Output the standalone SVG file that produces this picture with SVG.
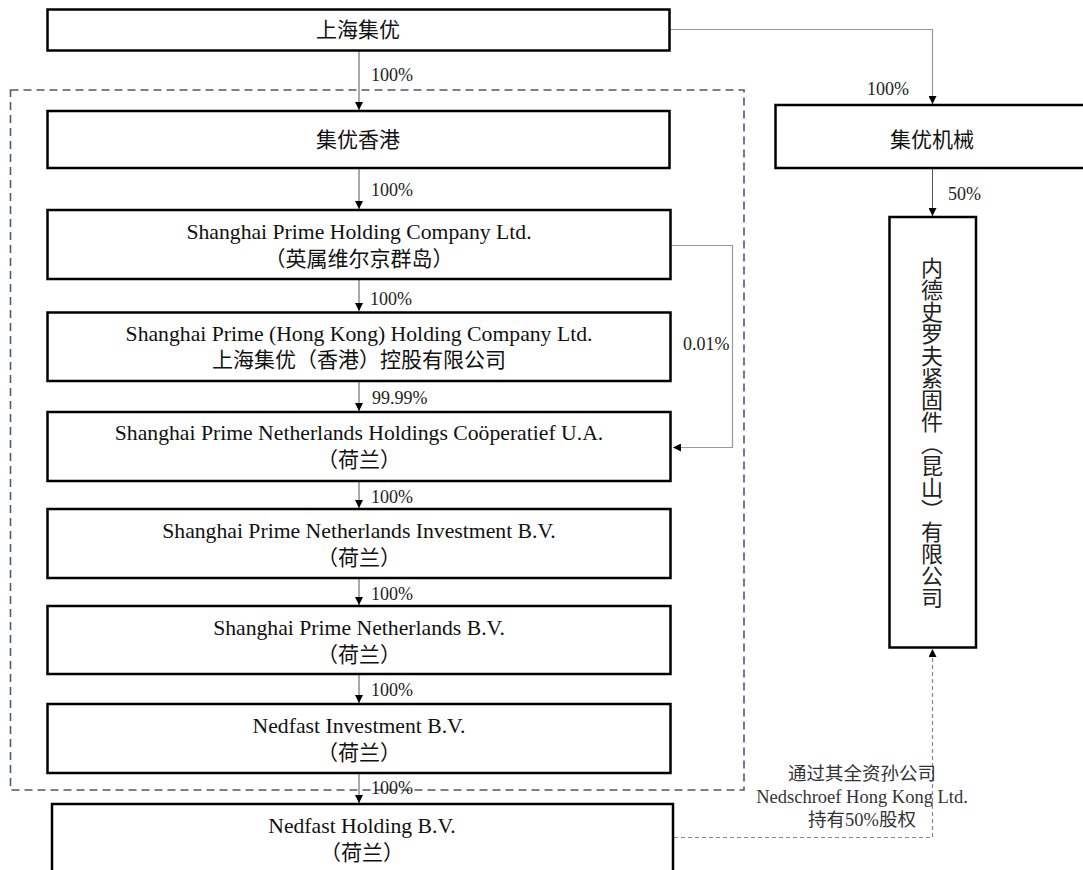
<svg xmlns="http://www.w3.org/2000/svg" width="1083" height="870" viewBox="0 0 1083 870">
<defs>
<style>
.box{fill:#fff;stroke:#000;stroke-width:2.5}
.t{font-family:"Liberation Serif","Noto Sans CJK SC",serif;font-size:21px;fill:#111;text-anchor:middle}
.en{font-size:21.7px}
.pct{font-family:"Liberation Serif","Noto Sans CJK SC",serif;font-size:18px;fill:#222}
.ln{fill:none;stroke:#555;stroke-width:1}
.lg{fill:none;stroke:#999;stroke-width:1.2}
.ld{fill:none;stroke:#888;stroke-width:1.2;stroke-dasharray:4 3}
.grp{fill:none;stroke:#4b5a7a;stroke-width:1.6;stroke-dasharray:8 5}
.note{font-family:"Liberation Serif","Noto Sans CJK SC",serif;font-size:18.5px;fill:#333;text-anchor:middle}
</style>
<marker id="ah" viewBox="0 0 10 10" refX="10" refY="5" markerWidth="8" markerHeight="8" markerUnits="userSpaceOnUse" orient="auto">
<path d="M0,0 L10,5 L0,10 z" fill="#000"/>
</marker>
</defs>
<rect width="1083" height="870" fill="#fff"/>

<rect class="grp" x="10.5" y="90" width="733.5" height="700"/>

<g id="connectors">
<path class="ln" d="M359,51 V110" marker-end="url(#ah)"/>
<path class="ln" d="M359,168 V209" marker-end="url(#ah)"/>
<path class="ln" d="M359,279 V311" marker-end="url(#ah)"/>
<path class="ln" d="M359,381 V411" marker-end="url(#ah)"/>
<path class="ln" d="M359,481 V508" marker-end="url(#ah)"/>
<path class="ln" d="M359,578 V605" marker-end="url(#ah)"/>
<path class="ln" d="M359,674 V703" marker-end="url(#ah)"/>
<path class="ln" d="M359,773 V803" marker-end="url(#ah)"/>
<path class="lg" d="M670,29.5 H932.5 V104" marker-end="url(#ah)"/>
<path class="ln" d="M932.5,168 V216" marker-end="url(#ah)"/>
<path class="lg" d="M672,245.5 H732.5 V447.5 H673" marker-end="url(#ah)"/>
<path class="ld" d="M674,837.5 H932.5 V649" marker-end="url(#ah)"/>
<text class="pct" x="371" y="81">100%</text>
<text class="pct" x="371" y="196">100%</text>
<text class="pct" x="370" y="305">100%</text>
<text class="pct" x="372" y="404">99.99%</text>
<text class="pct" x="371" y="503">100%</text>
<text class="pct" x="371" y="600">100%</text>
<text class="pct" x="371" y="696">100%</text>
<text class="pct" x="371" y="794">100%</text>
<text class="pct" x="867" y="95">100%</text>
<text class="pct" x="948" y="200">50%</text>
<text class="pct" x="683" y="350">0.01%</text>
<text class="note" x="862" y="780">通过其全资孙公司</text>
<text class="note" x="862" y="803">Nedschroef Hong Kong Ltd.</text>
<text class="note" x="862" y="826">持有50%股权</text>
</g>

<g id="shanghai-jiyou">
<rect class="box" x="47.5" y="9.5" width="622" height="41"/>
<text class="t" x="358" y="37">上海集优</text>
</g>
<g id="jiyou-hk">
<rect class="box" x="47.5" y="111" width="622" height="57"/>
<text class="t" x="358" y="147">集优香港</text>
</g>
<g id="sp-holding">
<rect class="box" x="47.5" y="210" width="623" height="69"/>
<text class="t en" x="359" y="239">Shanghai Prime Holding Company Ltd.</text>
<text class="t" x="359" y="266">（英属维尔京群岛）</text>
</g>
<g id="sp-hk-holding">
<rect class="box" x="47.5" y="312.5" width="623" height="68.5"/>
<text class="t en" x="359" y="341">Shanghai Prime (Hong Kong) Holding Company Ltd.</text>
<text class="t" x="359" y="367">上海集优（香港）控股有限公司</text>
</g>
<g id="sp-coop">
<rect class="box" x="47.5" y="412" width="623" height="69"/>
<text class="t en" x="359" y="440">Shanghai Prime Netherlands Holdings Coöperatief U.A.</text>
<text class="t" x="359" y="467">（荷兰）</text>
</g>
<g id="sp-nl-investment">
<rect class="box" x="47.5" y="509" width="623" height="69"/>
<text class="t en" x="359" y="538">Shanghai Prime Netherlands Investment B.V.</text>
<text class="t" x="359" y="565">（荷兰）</text>
</g>
<g id="sp-nl-bv">
<rect class="box" x="47.5" y="606" width="623" height="68"/>
<text class="t en" x="359" y="635">Shanghai Prime Netherlands B.V.</text>
<text class="t" x="359" y="662">（荷兰）</text>
</g>
<g id="nedfast-investment">
<rect class="box" x="47.5" y="704" width="623" height="69"/>
<text class="t en" x="359" y="733">Nedfast Investment B.V.</text>
<text class="t" x="359" y="760">（荷兰）</text>
</g>
<g id="nedfast-holding">
<rect class="box" x="52" y="804" width="621" height="90"/>
<text class="t en" x="362" y="833">Nedfast Holding B.V.</text>
<text class="t" x="362" y="860">（荷兰）</text>
</g>
<g id="jiyou-machinery">
<rect class="box" x="775.5" y="105" width="330" height="63"/>
<text class="t" x="932" y="147">集优机械</text>
</g>
<g id="nedschroef-kunshan">
<rect class="box" x="889.5" y="217" width="86.5" height="430.5"/>
<text x="932" y="257" style="writing-mode:vertical-rl;font-family:'Noto Sans CJK SC',sans-serif;font-size:22px;fill:#222">内德史罗夫紧固件（昆山）有限公司</text>
</g>
</svg>
